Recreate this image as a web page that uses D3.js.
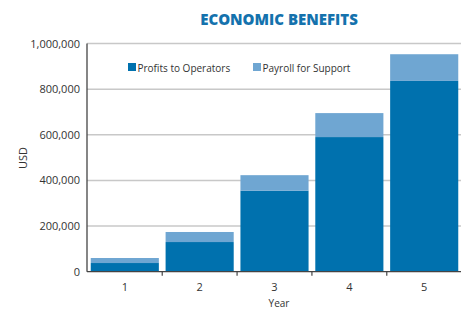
<!DOCTYPE html>
<html>
<head>
<meta charset="utf-8">
<script src="https://cdn.jsdelivr.net/npm/d3@7"></script>
<style>
  body { margin: 0; background: #fff; }
  svg { display: block; font-family: "Open Sans", "DejaVu Sans", sans-serif; }
</style>
</head>
<body>
<svg id="chart" width="461" height="312"></svg>
<script>
// chart data
var years = ["1", "2", "3", "4", "5"];
var profits = [38000, 130000, 355000, 590000, 836000];
var payroll = [22000, 44000, 68000, 105000, 117000];
var seriesNames = ["Profits to Operators", "Payroll for Support"];
var yTicks = [0, 200000, 400000, 600000, 800000, 1000000];

var colors = ["#0071ae", "#6fa6d2"];

var svg = d3.select("#chart");
var margin = {left: 87, right: 0, top: 43.5, bottom: 40};
var W = 461, H = 312;

var x = d3.scaleBand()
  .domain(years)
  .range([margin.left, 462])
  .paddingInner(0.09)
  .paddingOuter(0.05);

var y = d3.scaleLinear()
  .domain([0, 1000000])
  .range([271.7, margin.top]);

// title
svg.append("text")
  .attr("x", 279).attr("y", 25)
  .attr("text-anchor", "middle")
  .style("font-family", "'Open Sans', sans-serif")
  .style("font-weight", 800)
  .style("font-size", "15px")
  .style("fill", "#1472ad")
  .text("ECONOMIC BENEFITS");

// gridlines
svg.append("g").selectAll("line")
  .data(yTicks.filter(function(d) { return d > 0; }))
  .enter().append("line")
  .attr("x1", margin.left).attr("x2", W)
  .attr("y1", function(d) { return y(d); })
  .attr("y2", function(d) { return y(d); })
  .attr("stroke", "#c8c8c8")
  .attr("stroke-width", 1.5);

// y axis labels
var yAxis = d3.axisLeft(y).tickValues(yTicks).tickSize(0).tickPadding(7)
  .tickFormat(d3.format(","));
var gy = svg.append("g").attr("transform", "translate(" + margin.left + ",0)").call(yAxis);
gy.select(".domain").remove();
gy.selectAll("text").style("font-size", "11px").style("fill", "#333")
  .style("font-family", "'Open Sans', sans-serif");

// stacked bars
var stack = d3.stack().keys([0, 1]);
var rows = years.map(function(yr, i) { return [profits[i], payroll[i]]; });
var layers = stack(rows);

svg.append("g").selectAll("g")
  .data(layers)
  .enter().append("g")
  .attr("fill", function(d, i) { return colors[i]; })
  .selectAll("rect")
  .data(function(d) { return d; })
  .enter().append("rect")
  .attr("x", function(d, i) { return x(years[i]); })
  .attr("width", x.bandwidth())
  .attr("y", function(d) { return y(d[1]); })
  .attr("height", function(d) { return y(d[0]) - y(d[1]); });

// left axis line
svg.append("line")
  .attr("x1", margin.left).attr("x2", margin.left)
  .attr("y1", margin.top).attr("y2", y(0))
  .attr("stroke", "#444").attr("stroke-width", 1.3);

// x axis
svg.append("line")
  .attr("x1", margin.left).attr("x2", W)
  .attr("y1", y(0)).attr("y2", y(0))
  .attr("stroke", "#444").attr("stroke-width", 1.3);

var step = x.step();
svg.append("g").selectAll("line")
  .data(years.slice(1))
  .enter().append("line")
  .attr("x1", function(d) { return x(d) - (step - x.bandwidth()) / 2; })
  .attr("x2", function(d) { return x(d) - (step - x.bandwidth()) / 2; })
  .attr("y1", y(0)).attr("y2", y(0) + 4)
  .attr("stroke", "#444").attr("stroke-width", 1.2);

svg.append("g").selectAll("text")
  .data(years)
  .enter().append("text")
  .attr("x", function(d) { return x(d) + x.bandwidth() / 2; })
  .attr("y", 291)
  .attr("text-anchor", "middle")
  .style("font-size", "11px").style("fill", "#333")
  .text(function(d) { return d; });

// axis titles
svg.append("text")
  .attr("x", 279).attr("y", 307)
  .attr("text-anchor", "middle")
  .style("font-size", "10px").style("fill", "#333")
  .text("Year");

svg.append("text")
  .attr("transform", "translate(27,158) rotate(-90)")
  .attr("text-anchor", "middle")
  .style("font-size", "11px").style("fill", "#333")
  .text("USD");

// legend
var legendX = [128, 253];
var lg = svg.append("g").selectAll("g")
  .data(seriesNames)
  .enter().append("g")
  .attr("transform", function(d, i) { return "translate(" + legendX[i] + ",63)"; });
lg.append("rect")
  .attr("width", 8).attr("height", 8)
  .attr("fill", function(d, i) { return colors[i]; });
lg.append("text")
  .attr("x", 9.5).attr("y", 8.5)
  .style("font-size", "10px").style("fill", "#333")
  .text(function(d) { return d; });
</script>
</body>
</html>
